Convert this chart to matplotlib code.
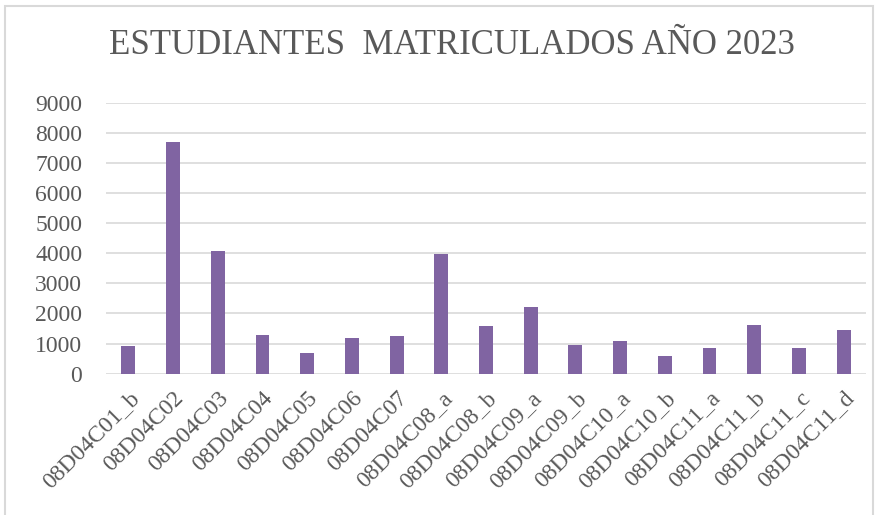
import matplotlib.pyplot as plt
import matplotlib.patches as mpatches

categorias = ['08D04C01_b', '08D04C02', '08D04C03', '08D04C04', '08D04C05',
              '08D04C06', '08D04C07', '08D04C08_a', '08D04C08_b', '08D04C09_a',
              '08D04C09_b', '08D04C10_a', '08D04C10_b', '08D04C11_a',
              '08D04C11_b', '08D04C11_c', '08D04C11_d']
estudiantes = [930, 7690, 4070, 1290, 690, 1180, 1250, 3970, 1600, 2220,
               965, 1080, 580, 855, 1630, 855, 1450]
yticks = [0, 1000, 2000, 3000, 4000, 5000, 6000, 7000, 8000, 9000]

titulo = 'ESTUDIANTES  MATRICULADOS AÑO 2023'

plt.rcParams['font.family'] = ['Liberation Serif', 'DejaVu Serif']

fig = plt.figure(figsize=(8.81, 5.15), dpi=100)
ax = fig.add_axes([0.1203, 0.2744, 0.8627, 0.5262])

x = range(len(categorias))
ax.bar(x, estudiantes, width=0.31, color='#8064A2', zorder=3)

ax.set_xlim(-0.5, len(categorias) - 0.5)
ax.set_ylim(0, 9000)
ax.set_yticks(yticks)
ax.set_yticklabels([str(v) for v in yticks], fontsize=17, color='#595959')
ax.set_xticks(list(x))
ax.set_xticklabels(categorias, fontsize=17, color='#595959',
                   rotation=45, ha='right', rotation_mode='anchor')
ax.tick_params(axis='both', length=0)
ax.tick_params(axis='y', pad=17)
ax.tick_params(axis='x', pad=10)

ax.grid(axis='y', color='#D9D9D9', linewidth=1.2, zorder=0)
for s in ax.spines.values():
    s.set_visible(False)

fig.text(0.513, 0.911, titulo, fontsize=25, color='#595959',
         ha='center', va='center')

# marco gris del grafico
fig.patches.append(mpatches.Rectangle((5 / 881, -0.01), 868 / 881, 1 - 6 / 515 + 0.01,
                                      transform=fig.transFigure, fill=False,
                                      edgecolor='#D9D9D9', linewidth=1.5))

fig.savefig('out.png', dpi=100)
